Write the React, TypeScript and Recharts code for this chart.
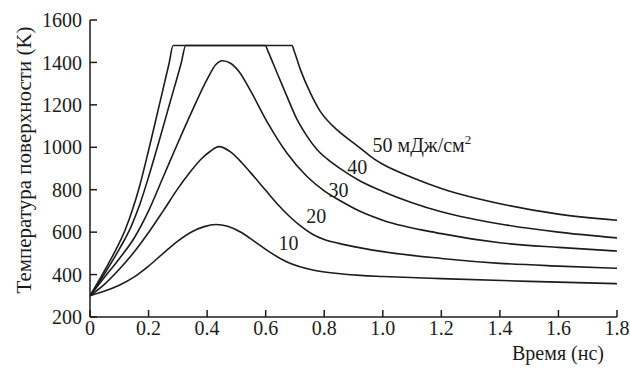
import { LineChart, Line, XAxis, YAxis, ReferenceDot } from "recharts";

const FONT = "Liberation Serif";
const FS = 20;
const INK = "#1c1c1c";

const xTicks = [0, 0.2, 0.4, 0.6, 0.8, 1.0, 1.2, 1.4, 1.6, 1.8];
const yTicks = [200, 400, 600, 800, 1000, 1200, 1400, 1600];

// fluence 10 mJ/cm2
const curve10 = [
  { t: 0, T: 300 }, { t: 0.05, T: 322 }, { t: 0.1, T: 350 }, { t: 0.15, T: 388 },
  { t: 0.2, T: 440 }, { t: 0.25, T: 500 }, { t: 0.3, T: 558 }, { t: 0.35, T: 603 },
  { t: 0.39, T: 626 }, { t: 0.43, T: 636 }, { t: 0.47, T: 628 }, { t: 0.514, T: 601 },
  { t: 0.56, T: 558 }, { t: 0.605, T: 514 }, { t: 0.673, T: 459 }, { t: 0.765, T: 420 },
  { t: 0.855, T: 404 }, { t: 0.924, T: 396 }, { t: 1.0, T: 391 }, { t: 1.2, T: 381 },
  { t: 1.5, T: 368 }, { t: 1.8, T: 357 },
];

const curve20 = [
  { t: 0, T: 300 }, { t: 0.05, T: 355 }, { t: 0.1, T: 425 }, { t: 0.15, T: 505 },
  { t: 0.2, T: 598 }, { t: 0.25, T: 700 }, { t: 0.3, T: 805 }, { t: 0.34, T: 880 },
  { t: 0.38, T: 945 }, { t: 0.41, T: 980 }, { t: 0.44, T: 1003 }, { t: 0.48, T: 978 },
  { t: 0.52, T: 925 }, { t: 0.56, T: 862 }, { t: 0.6, T: 797 }, { t: 0.64, T: 733 },
  { t: 0.68, T: 676 }, { t: 0.72, T: 628 }, { t: 0.76, T: 590 }, { t: 0.8, T: 565 },
  { t: 0.85, T: 547 }, { t: 0.924, T: 526 }, { t: 1.0, T: 508 }, { t: 1.2, T: 476 },
  { t: 1.4, T: 453 }, { t: 1.6, T: 440 }, { t: 1.8, T: 430 },
];

const curve30 = [
  { t: 0, T: 300 }, { t: 0.05, T: 388 }, { t: 0.1, T: 475 }, { t: 0.15, T: 570 },
  { t: 0.2, T: 700 }, { t: 0.25, T: 860 }, { t: 0.3, T: 1020 }, { t: 0.35, T: 1175 },
  { t: 0.4, T: 1320 }, { t: 0.43, T: 1390 }, { t: 0.452, T: 1408 }, { t: 0.48, T: 1396 },
  { t: 0.51, T: 1355 }, { t: 0.55, T: 1262 }, { t: 0.605, T: 1120 }, { t: 0.673, T: 972 },
  { t: 0.742, T: 861 }, { t: 0.8, T: 795 }, { t: 0.855, T: 748 }, { t: 0.924, T: 697 },
  { t: 1.0, T: 656 }, { t: 1.2, T: 593 }, { t: 1.4, T: 550 }, { t: 1.6, T: 528 },
  { t: 1.8, T: 511 },
];

const curve40 = [
  { t: 0, T: 300 }, { t: 0.05, T: 405 }, { t: 0.1, T: 520 }, { t: 0.14, T: 625 },
  { t: 0.17, T: 730 }, { t: 0.2, T: 860 }, { t: 0.232, T: 1010 }, { t: 0.273, T: 1210 },
  { t: 0.312, T: 1400 }, { t: 0.327, T: 1480 }, { t: 0.599, T: 1480 }, { t: 0.607, T: 1456 },
  { t: 0.639, T: 1350 }, { t: 0.673, T: 1239 }, { t: 0.708, T: 1129 }, { t: 0.74, T: 1055 },
  { t: 0.775, T: 990 }, { t: 0.81, T: 945 }, { t: 0.856, T: 898 }, { t: 0.924, T: 840 },
  { t: 1.0, T: 792 }, { t: 1.2, T: 696 }, { t: 1.425, T: 633 }, { t: 1.6, T: 600 },
  { t: 1.8, T: 573 },
];

const curve50 = [
  { t: 0, T: 300 }, { t: 0.04, T: 395 }, { t: 0.08, T: 495 }, { t: 0.12, T: 610 },
  { t: 0.145, T: 705 }, { t: 0.17, T: 820 }, { t: 0.2, T: 985 }, { t: 0.236, T: 1195 },
  { t: 0.27, T: 1395 }, { t: 0.284, T: 1480 }, { t: 0.69, T: 1480 }, { t: 0.697, T: 1455 },
  { t: 0.719, T: 1365 }, { t: 0.753, T: 1255 }, { t: 0.787, T: 1168 }, { t: 0.815, T: 1120 },
  { t: 0.844, T: 1082 }, { t: 0.924, T: 995 }, { t: 0.97, T: 945 }, { t: 1.0, T: 920 },
  { t: 1.1, T: 858 }, { t: 1.2, T: 806 }, { t: 1.425, T: 727 }, { t: 1.6, T: 685 },
  { t: 1.8, T: 656 },
];

const series = [curve10, curve20, curve30, curve40, curve50];

// curve labels: text, anchor point in data units (left edge, baseline)
const labelText = ["10", "20", "30", "40", "50"];
const labelT = [0.644, 0.739, 0.815, 0.879, 0.965];
const labelTemp = [515, 642, 765, 874, 978];

function curveLabel(text: string, withUnit: boolean) {
  return (props: any) => {
    const { x, y } = props.viewBox;
    return (
      <text x={x} y={y} fill={INK} fontSize={FS} fontFamily={FONT} textAnchor="start">
        {text}
        {withUnit && (
          <>
            {" мДж/см"}
            <tspan dy={-8} fontSize={13}>2</tspan>
          </>
        )}
      </text>
    );
  };
}

export default function App() {
  const tick = { fill: INK, fontSize: FS, fontFamily: FONT };
  return (
    <div style={{ position: "absolute", left: 0, top: 0, width: 630, height: 378, background: "#fff" }}>
      <LineChart width={630} height={378} margin={{ top: 20, right: 13, bottom: 0, left: 0 }}>
        <XAxis
          dataKey="t"
          type="number"
          domain={[0, 1.8]}
          ticks={xTicks}
          allowDataOverflow
          height={61}
          tickSize={-7}
          tickMargin={11}
          stroke={INK}
          strokeWidth={1.5}
          tick={tick}
          tickFormatter={(v: number) => (v === 0 ? "0" : v.toFixed(1))}
          label={() => (
            <text x={604} y={360} textAnchor="end" fill={INK} fontSize={FS} fontFamily={FONT}>
              Время (нс)
            </text>
          )}
        />
        <XAxis xAxisId="top" orientation="top" type="number" domain={[0, 1.8]} height={0} tick={false} tickLine={false} stroke={INK} strokeWidth={1.5} />
        <YAxis
          type="number"
          domain={[200, 1600]}
          ticks={yTicks}
          allowDataOverflow
          width={90}
          tickSize={-7}
          tickMargin={15}
          stroke={INK}
          strokeWidth={1.5}
          tick={tick}
          label={() => (
            <text
              x={24}
              y={160}
              transform="rotate(-90, 24, 160)"
              textAnchor="middle"
              dominantBaseline="central"
              fill={INK}
              fontSize={21}
              fontFamily={FONT}
            >
              Температура поверхности (K)
            </text>
          )}
        />
        <YAxis yAxisId="right" orientation="right" type="number" domain={[200, 1600]} width={0} tick={false} tickLine={false} stroke={INK} strokeWidth={1.5} />
        {series.map((d, i) => (
          <Line
            key={i}
            data={d}
            dataKey="T"
            type="monotone"
            stroke={INK}
            strokeWidth={1.6}
            dot={false}
            isAnimationActive={false}
          />
        ))}
        {labelText.map((s, i) => (
          <ReferenceDot
            key={s}
            x={labelT[i]}
            y={labelTemp[i]}
            r={0}
            fill="none"
            stroke="none"
            ifOverflow="visible"
            label={curveLabel(s, i === 4)}
          />
        ))}
      </LineChart>
    </div>
  );
}
